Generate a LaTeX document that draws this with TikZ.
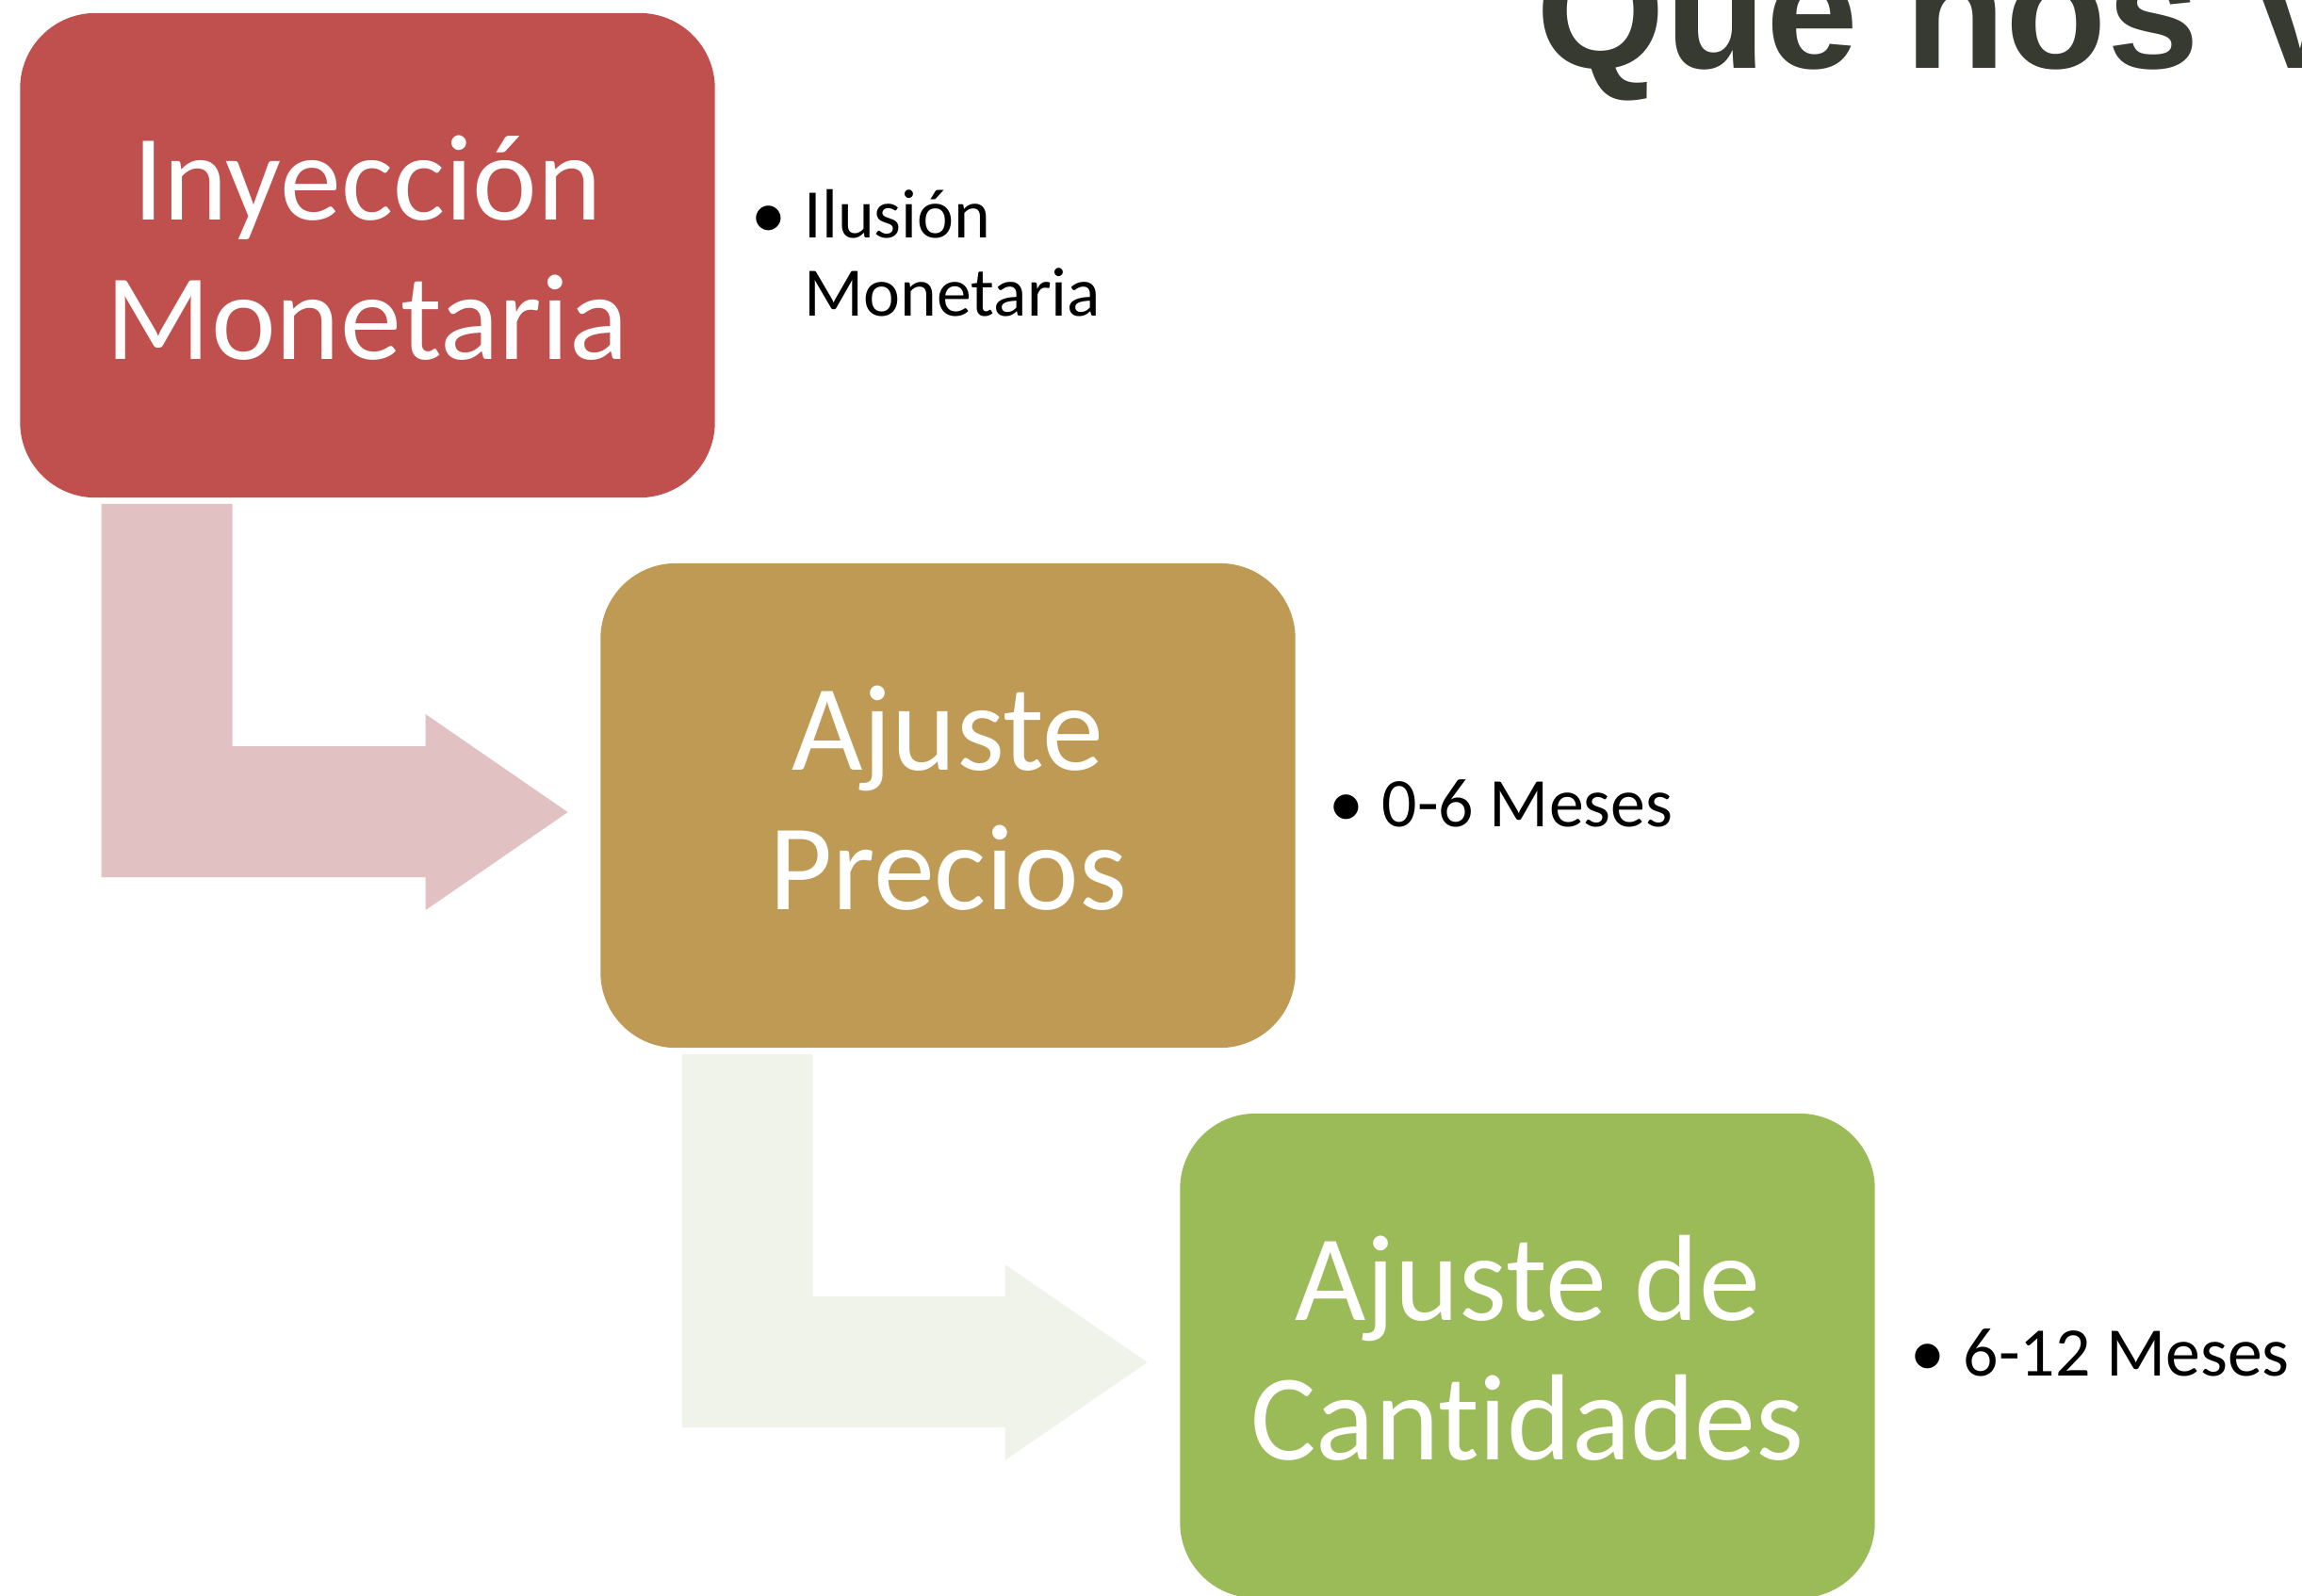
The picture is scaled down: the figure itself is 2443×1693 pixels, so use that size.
\documentclass[tikz,border=0pt]{standalone}
\usepackage{fontspec}
\setmainfont{Carlito}[Ligatures={NoCommon}]
\newfontfamily\titlefont{Liberation Sans}
\usetikzlibrary{positioning}
\usetikzlibrary{calc}

\definecolor{rojo}{RGB}{192,80,77}
\definecolor{oro}{RGB}{190,154,84}
\definecolor{verde}{RGB}{155,187,89}
\definecolor{rosa}{RGB}{225,193,194}
\definecolor{verdeclaro}{RGB}{240,243,234}
\definecolor{oscuro}{RGB}{54,58,49}

\newcommand{\dos}[2]{\raisebox{-0.08cm}[\height][\depth]{\begin{tabular}{@{}c@{}}#1\\[0.06cm]#2\end{tabular}}}

\begin{document}
\begin{tikzpicture}[x=0.01cm,y=-0.01cm,
  caja/.style={rounded corners=0.8cm,minimum width=7.37cm,minimum height=5.14cm,
    inner sep=0pt,text=white,align=center,font=\fontsize{37}{40.6}\selectfont},
  nota/.style={anchor=base west,inner sep=0pt,font=\fontsize{21}{23.6}\selectfont}]
 \useasboundingbox (0,0) rectangle (2443,1693);
 \node[anchor=base west,inner sep=0pt,text=oscuro,font=\titlefont\bfseries\fontsize{50}{50}\selectfont] (titulo) at (1630,72) {Que nos V};

 \node[caja,fill=rojo] (inyeccion) at (390,271) {\dos{Inyección}{Monetaria}};
 \node[caja,fill=oro] (precios) at (1006,855) {\dos{Ajuste}{Precios}};
 \node[caja,fill=verde] (cantidades) at (1621,1439) {\dos{Ajuste de}{Cantidades}};

 % flechas
 \coordinate (t1) at ($(precios.west)+(-34,7)$);
 \fill[rosa] ($(inyeccion.south west)+(87,6)$) coordinate (a1) -- ++(139,0) |- ($(t1)+(-151,-70)$) -- ++(0,-34) -- (t1) -- ($(t1)+(-151,104)$) -- ++(0,-35) -| (a1) -- cycle;
 \coordinate (t2) at ($(cantidades.west)+(-34,7)$);
 \fill[verdeclaro] ($(precios.south west)+(87,6)$) coordinate (a2) -- ++(139,0) |- ($(t2)+(-151,-70)$) -- ++(0,-34) -- (t2) -- ($(t2)+(-151,104)$) -- ++(0,-35) -| (a2) -- cycle;

 % notas
 \node[nota] (ilusion) at (797,252) {\begin{tabular}[t]{@{}l@{}l@{}}\makebox[0.56cm][l]{•}&Ilusión\\&Monetaria\end{tabular}};
 \node[nota] (meses1) at (1410,877) {\makebox[0.56cm][l]{•}0-6 Meses};
 \node[nota] (meses2) at (2027,1460) {\makebox[0.56cm][l]{•}6-12 Meses};
\end{tikzpicture}
\end{document}
